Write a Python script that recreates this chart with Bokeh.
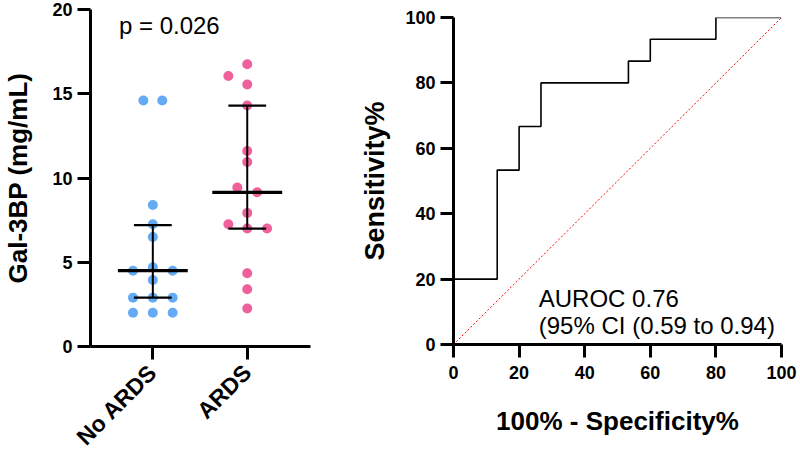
import math
from bokeh.plotting import figure
from bokeh.layouts import row
from bokeh.models import Range1d, FixedTicker
from bokeh.core.properties import value
from bokeh.embed import file_html
from bokeh.resources import INLINE

# ---------------- data ----------------
categories = ["No ARDS", "ARDS"]
no_ards_vals = [14.6, 14.6, 8.4, 7.25, 6.5, 4.5, 4.7, 4.5, 3.95, 2.9, 2.9, 2.9, 2.0, 2.0, 2.0]
ards_vals = [16.75, 16.05, 15.55, 14.3, 11.6, 10.95, 9.43, 9.15, 7.93, 7.25, 7.0, 7.0, 4.35, 3.4, 2.25]
medians = [4.5, 9.15]
q1 = [2.9, 7.0]
q3 = [7.2, 14.3]
p_text = "p = 0.026"

roc_fpr = [0, 0, 13.33, 13.33, 20, 20, 26.67, 26.67, 53.33, 53.33, 60, 60, 80, 80, 100]
roc_tpr = [0, 20, 20, 53.33, 53.33, 66.67, 66.67, 80, 80, 86.67, 86.67, 93.33, 93.33, 100, 100]
ref_line = [0, 100]
auroc_lines = ["AUROC 0.76", "(95% CI (0.59 to 0.94)"]
y_ticks_left = [0, 5, 10, 15, 20]
ticks_right = [0, 20, 40, 60, 80, 100]

# beeswarm layout offsets (horizontal spread of dots)
no_ards_off = [-0.1, 0.1, 0, 0, 0, -0.21, 0, 0.21, 0, -0.21, 0, 0.21, -0.21, 0, 0.21]
ards_off = [0, -0.2, 0, 0, 0, 0, -0.105, 0.105, 0, -0.2, 0, 0.21, 0, 0, 0]

FONT = "Liberation Sans"
BLUE = "#64AAF4"
PINK = "#F0609A"


def style_axes(p):
    for ax in p.axis:
        ax.axis_line_width = 3
        ax.axis_line_color = "black"
        ax.major_tick_line_width = 3
        ax.major_tick_line_color = "black"
        ax.major_tick_out = 13
        ax.major_tick_in = 0
        ax.minor_tick_line_color = None
        ax.major_label_text_font = FONT
        ax.major_label_text_font_style = "bold"
        ax.major_label_text_font_size = "18px"
        ax.major_label_text_color = "black"
        ax.axis_label_text_font = FONT
        ax.axis_label_text_font_style = "bold"
        ax.axis_label_text_color = "black"
    p.xgrid.visible = False
    p.ygrid.visible = False
    p.outline_line_color = None


# ---------------- left panel ----------------
p1 = figure(width=340, height=462, output_backend="svg", toolbar_location=None,
            x_range=Range1d(0.34, 2.67), y_range=Range1d(0, 20), frame_align=False,
            min_border_left=84, min_border_right=30, min_border_top=9, min_border_bottom=115)
style_axes(p1)

xpos = [i + 1 for i in range(len(categories))]
p1.scatter(x=[xpos[0] + o for o in no_ards_off], y=no_ards_vals, size=10,
           fill_color=BLUE, line_color=None)
p1.scatter(x=[xpos[1] + o for o in ards_off], y=ards_vals, size=10,
           fill_color=PINK, line_color=None)

# median lines
p1.segment(x0=[x - 0.37 for x in xpos], x1=[x + 0.37 for x in xpos], y0=medians, y1=medians,
           line_color="black", line_width=3.2)
# IQR whiskers
p1.segment(x0=xpos, x1=xpos, y0=q1, y1=q3, line_color="black", line_width=2)
p1.segment(x0=[x - 0.2 for x in xpos], x1=[x + 0.2 for x in xpos], y0=q1, y1=q1,
           line_color="black", line_width=2.2)
p1.segment(x0=[x - 0.2 for x in xpos], x1=[x + 0.2 for x in xpos], y0=q3, y1=q3,
           line_color="black", line_width=2.2)

p1.text(x=[1.175], y=[19.05], text=[p_text], text_font=value(FONT), text_font_size="24px",
        text_align="center", text_baseline="middle", text_color="black")

p1.yaxis.ticker = FixedTicker(ticks=y_ticks_left)
p1.yaxis.axis_label = "Gal-3BP (mg/mL)"
p1.yaxis.axis_label_text_font_size = "26px"
p1.yaxis.axis_label_standoff = 16
p1.yaxis.major_label_standoff = 5
p1.xaxis.ticker = FixedTicker(ticks=xpos)
p1.xaxis.major_label_overrides = {x: c for x, c in zip(xpos, categories)}
p1.xaxis.major_label_orientation = math.pi / 4
p1.xaxis.major_label_text_font_size = "23px"
p1.xaxis.major_label_standoff = 9

# ---------------- right panel ----------------
p2 = figure(width=460, height=462, output_backend="svg", toolbar_location=None,
            x_range=Range1d(0, 100), y_range=Range1d(0, 100), frame_align=False,
            min_border_left=113, min_border_right=19, min_border_top=17, min_border_bottom=118)
style_axes(p2)

p2.line(x=ref_line, y=ref_line, line_color="#FF0000", line_width=1, line_dash="2 2")
p2.line(x=roc_fpr, y=roc_tpr, line_color="black", line_width=1.6)

p2.text(x=[26, 26], y=[14.1, 5.9], text=auroc_lines, text_font=value(FONT), text_font_size="24px",
        text_align="left", text_baseline="alphabetic", text_color="black")

p2.xaxis.ticker = FixedTicker(ticks=ticks_right)
p2.yaxis.ticker = FixedTicker(ticks=ticks_right)
p2.xaxis.axis_label = "100% - Specificity%"
p2.yaxis.axis_label = "Sensitivity%"
p2.xaxis.axis_label_text_font_size = "26px"
p2.yaxis.axis_label_text_font_size = "27px"
p2.xaxis.major_label_standoff = 8
p2.yaxis.major_label_standoff = 5
p2.xaxis.axis_label_standoff = 24
p2.yaxis.axis_label_standoff = 12

layout = row(p1, p2)
open("out.html", "w").write(file_html(layout, INLINE))
